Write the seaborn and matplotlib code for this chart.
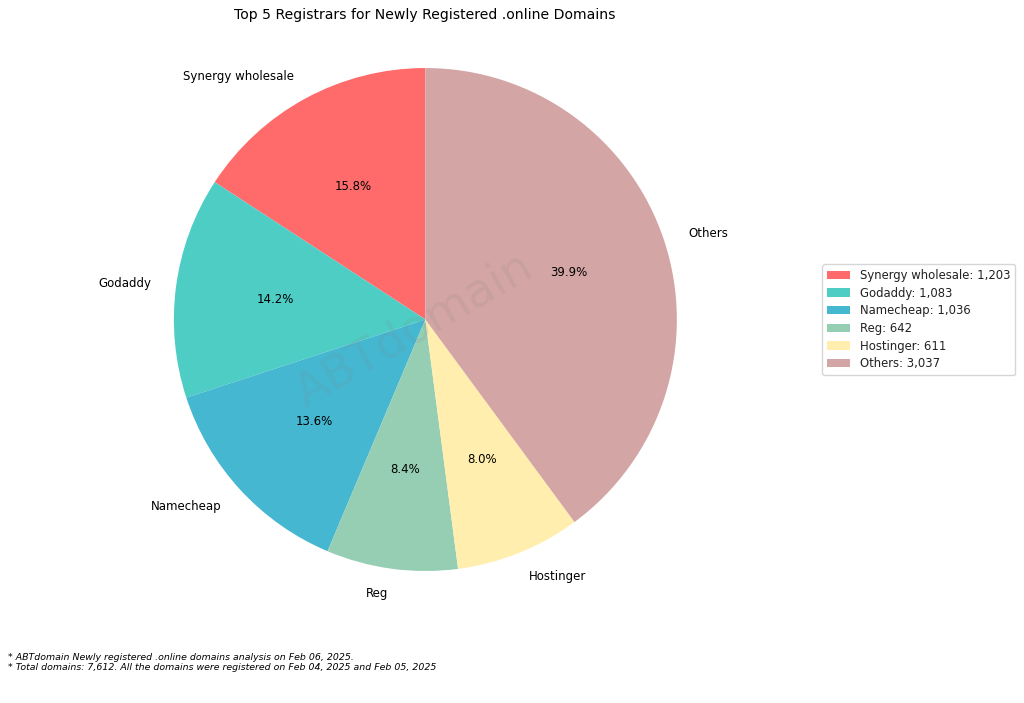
import seaborn as sns
import matplotlib.pyplot as plt

# Registrar counts
registrars = ['Synergy wholesale', 'Godaddy', 'Namecheap', 'Reg', 'Hostinger', 'Others']
counts = [1203, 1083, 1036, 642, 611, 3037]
colors = ['#FF6B6B', '#4ECDC4', '#45B7D1', '#96CEB4', '#FFEEAD', '#D4A5A5']
footnotes = [
    '* ABTdomain Newly registered .online domains analysis on Feb 06, 2025.',
    '* Total domains: 7,612. All the domains were registered on Feb 04, 2025 and Feb 05, 2025',
]

sns.set_theme(style='white')
plt.rcParams['font.family'] = ['DejaVu Sans']

fig = plt.figure(figsize=(10.24, 7.03), dpi=100)
ax = fig.add_axes([0.1084, 0.098, 0.614, 0.895])

wedges, texts, autotexts = ax.pie(
    counts,
    labels=registrars,
    colors=colors,
    autopct='%1.1f%%',
    startangle=90,
    wedgeprops={'linewidth': 0},
    textprops={'fontsize': 8.45, 'color': 'black'},
)
ax.set_aspect('equal')
fig.text(0.415, 0.979, 'Top 5 Registrars for Newly Registered .online Domains',
         ha='center', va='center', fontsize=10.1, color='black')

legend_labels = [f'{n}: {c:,}' for n, c in zip(registrars, counts)]
fig.legend(wedges, legend_labels, loc='center left', bbox_to_anchor=(0.7975, 0.5455),
           fontsize=8.4, frameon=True, edgecolor='#cccccc', framealpha=0.8,
           labelcolor='#222222', labelspacing=0.4)

# Watermark across the pie
fig.text(0.405, 0.53, 'ABTdomain', fontsize=33.5, color='gray', alpha=0.13,
         ha='center', va='center', rotation=30)

fig.text(0.008, 0.0576, footnotes[0] + '\n' + footnotes[1], fontsize=6.72,
         style='italic', ha='left', va='center', color='black')

plt.savefig('out.png', dpi=100)
